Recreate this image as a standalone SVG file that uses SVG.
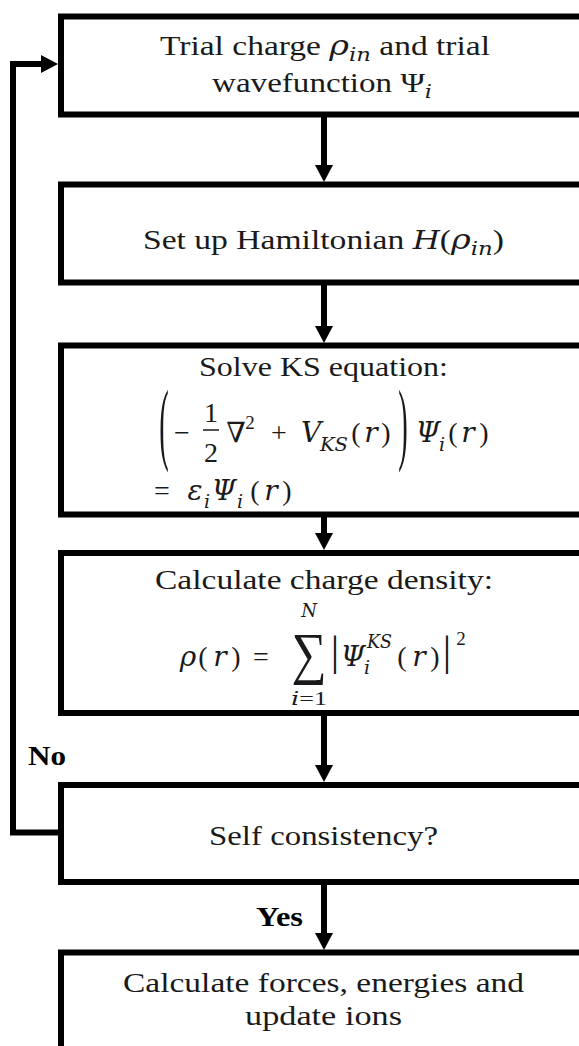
<svg xmlns="http://www.w3.org/2000/svg" width="579" height="1046" viewBox="0 0 579 1046">
<defs>
<style>
.box{fill:#fff;stroke:#000;stroke-width:6}
.t{font-family:"Liberation Serif","DejaVu Serif",serif;font-size:28px;fill:#1a1a1a}
.m{font-family:"Liberation Serif","DejaVu Serif",serif;font-size:28px;fill:#1a1a1a;text-anchor:middle}
.it{font-family:"DejaVu Serif","Liberation Serif",serif;font-style:italic}
.sub{font-family:"DejaVu Serif","Liberation Serif",serif;font-size:19px;font-style:italic}
.sm{font-size:19px}
.b{font-family:"Liberation Serif","DejaVu Serif",serif;font-size:28px;font-weight:bold;fill:#000}
.ln{fill:none;stroke:#000;stroke-width:6}
</style>
<marker id="ah" markerUnits="userSpaceOnUse" markerWidth="18" markerHeight="18" refX="1" refY="9" orient="auto">
<path d="M0,0 L17,9 L0,18 Z" fill="#000"/>
</marker>
</defs>
<rect width="579" height="1046" fill="#fff"/>

<g id="connectors">
<line class="ln" x1="324" y1="117" x2="324" y2="166" marker-end="url(#ah)"/>
<line class="ln" x1="324" y1="285" x2="324" y2="327" marker-end="url(#ah)"/>
<line class="ln" x1="324" y1="517" x2="324" y2="534" marker-end="url(#ah)"/>
<line class="ln" x1="324" y1="716" x2="324" y2="766" marker-end="url(#ah)"/>
<line class="ln" x1="324" y1="885" x2="324" y2="934" marker-end="url(#ah)"/>
<polyline class="ln" points="59,832.5 13,832.5 13,64 42,64" marker-end="url(#ah)"/>
<text class="b" x="28" y="765" textLength="38" lengthAdjust="spacingAndGlyphs">No</text>
<text class="b" x="256" y="926" textLength="47" lengthAdjust="spacingAndGlyphs">Yes</text>
</g>

<g id="n1">
<rect class="box" x="61" y="16.5" width="530" height="98"/>
<text class="t" x="160" y="55" textLength="330" lengthAdjust="spacingAndGlyphs">Trial charge <tspan class="it">ρ</tspan><tspan class="sub" dy="6">in</tspan><tspan dy="-6"> and trial</tspan></text>
<text class="t" x="212" y="92" textLength="220" lengthAdjust="spacingAndGlyphs">wavefunction Ψ<tspan class="sub" dy="6">i</tspan></text>
</g>

<g id="n2">
<rect class="box" x="61" y="184.5" width="530" height="98"/>
<text class="t" x="143" y="249" textLength="361" lengthAdjust="spacingAndGlyphs">Set up Hamiltonian <tspan class="it" style="font-size:26px">H</tspan>(<tspan class="it">ρ</tspan><tspan class="sub" dy="6">in</tspan><tspan dy="-6">)</tspan></text>
</g>

<g id="n3">
<rect class="box" x="61" y="345.5" width="530" height="169"/>
<text class="t" x="199" y="376" textLength="249" lengthAdjust="spacingAndGlyphs">Solve KS equation:</text>
<text class="m" transform="translate(164,453) scale(0.75,2.4)" style="font-size:38px">(</text>
<text class="m" x="182" y="442">−</text>
<text class="m" x="211" y="422">1</text>
<line x1="203" y1="430" x2="219" y2="430" stroke="#1a1a1a" stroke-width="1.5"/>
<text class="m" x="211" y="462">2</text>
<text class="m" x="236" y="442">∇</text>
<text class="m sm" x="250" y="429">2</text>
<text class="m" x="279" y="442">+</text>
<text class="m it" x="311" y="442">V</text>
<text class="m sub" x="334" y="451" textLength="28" lengthAdjust="spacingAndGlyphs">KS</text>
<text class="m" x="356" y="442">(</text>
<text class="m it" x="371" y="442">r</text>
<text class="m" x="386" y="442">)</text>
<text class="m" transform="translate(403,453) scale(0.75,2.4)" style="font-size:38px">)</text>
<text class="m it" x="428" y="442">Ψ</text>
<text class="m sub" x="442" y="451">i</text>
<text class="m" x="453" y="442">(</text>
<text class="m it" x="468" y="442">r</text>
<text class="m" x="484" y="442">)</text>
<text class="m" x="162" y="500">=</text>
<text class="m it" x="195" y="500">ε</text>
<text class="m sub" x="207" y="508">i</text>
<text class="m it" x="224" y="500">Ψ</text>
<text class="m sub" x="240" y="508">i</text>
<text class="m" x="255" y="500">(</text>
<text class="m it" x="271" y="500">r</text>
<text class="m" x="287" y="500">)</text>
</g>

<g id="n4">
<rect class="box" x="61" y="553" width="530" height="160"/>
<text class="t" x="155" y="589" textLength="338" lengthAdjust="spacingAndGlyphs">Calculate charge density:</text>
<text class="m it" x="188" y="666">ρ</text>
<text class="m" x="203" y="666">(</text>
<text class="m it" x="220" y="666">r</text>
<text class="m" x="236" y="666">)</text>
<text class="m" x="261" y="666">=</text>
<text class="m it" x="309" y="617" style="font-size:18px">N</text>
<text class="m" transform="translate(309,673) scale(0.85,1)" style="font-size:58px">∑</text>
<text class="m" x="309" y="705" style="font-size:18px" textLength="36" lengthAdjust="spacingAndGlyphs"><tspan class="it" style="font-size:18px">i</tspan>=1</text>
<text class="m" x="335" y="665" style="font-size:42px">|</text>
<text class="m it" x="353" y="666">Ψ</text>
<text class="m sub" x="367" y="674">i</text>
<text class="t sub" x="367" y="648" textLength="25" lengthAdjust="spacingAndGlyphs">KS</text>
<text class="m" x="402" y="666">(</text>
<text class="m it" x="419" y="666">r</text>
<text class="m" x="435" y="666">)</text>
<text class="m" x="447" y="665" style="font-size:42px">|</text>
<text class="m sm" x="461" y="645">2</text>
</g>

<g id="n5">
<rect class="box" x="61" y="785" width="530" height="97"/>
<text class="t" x="209" y="845" textLength="229" lengthAdjust="spacingAndGlyphs">Self consistency?</text>
</g>

<g id="n6">
<rect class="box" x="61" y="952.5" width="530" height="120"/>
<text class="t" x="123" y="992" textLength="401" lengthAdjust="spacingAndGlyphs">Calculate forces, energies and</text>
<text class="t" x="245" y="1025" textLength="157" lengthAdjust="spacingAndGlyphs">update ions</text>
</g>
</svg>
